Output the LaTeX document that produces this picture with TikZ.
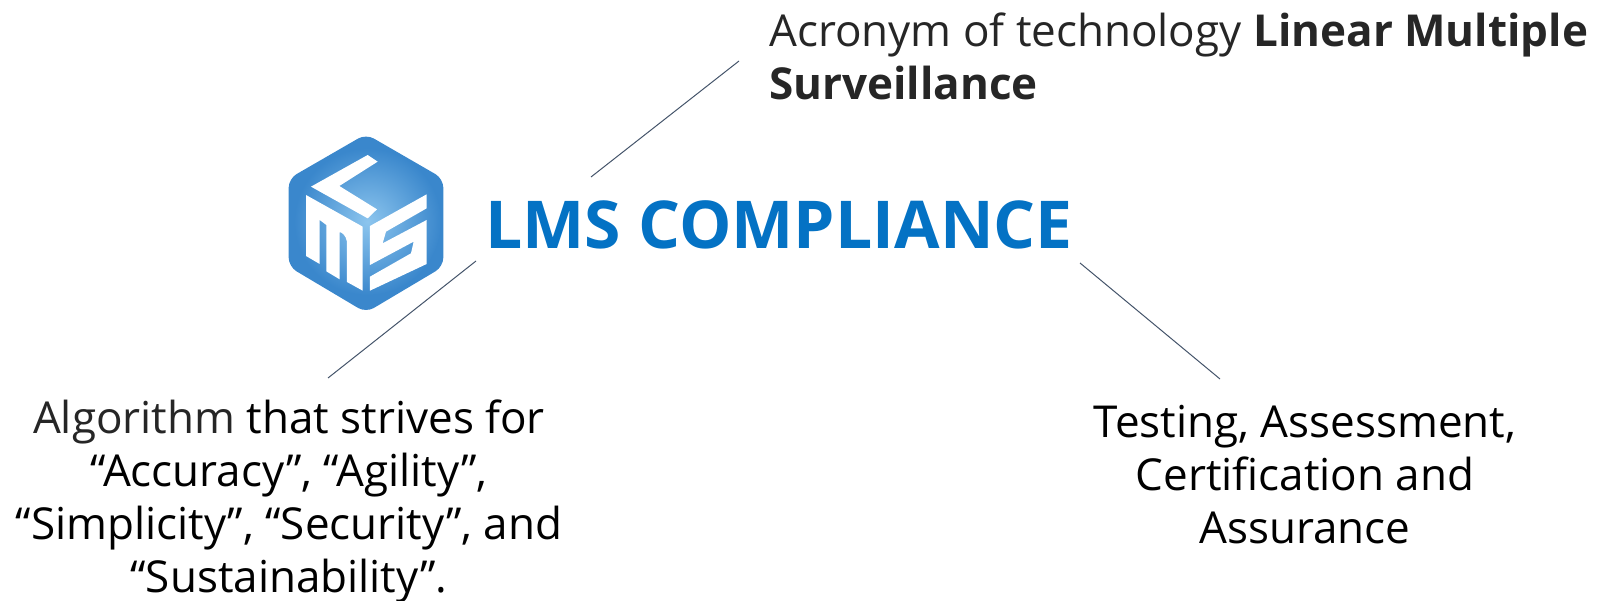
\documentclass[tikz,border=0pt]{standalone}
\usepackage{fontspec}
\setmainfont{Open Sans}
\definecolor{lmsblue}{HTML}{0472C4}
\definecolor{linegray}{HTML}{44546A}
\definecolor{textgray}{HTML}{262626}
\definecolor{cubeblue}{HTML}{3A87CC}
\definecolor{cubelight}{HTML}{8CC5EE}
\begin{document}
\begin{tikzpicture}[x=1pt,y=-1pt,
    txt/.style={font=\fontsize{44}{53}\selectfont, align=center, text=black, inner sep=0pt},
    link/.style={linegray, line width=1pt}]
    \useasboundingbox (0,0) rectangle (1602,601);
    % Draw logo
    \begin{scope}[shift={(261,110)},x=0.3333pt,y=-0.3333pt]
        \fill[cubeblue, rounded corners=9pt] (315,72) -- (547,206) -- (547,470) -- (315,608) -- (83,470) -- (83,206) -- cycle;
        \shade[inner color=cubelight, outer color=cubeblue] (320,335) circle (220);
        \fill[white] (320,135) -- (350,155) -- (235,228) -- (348,298) -- (320,325) -- (150,230) -- cycle;
        \fill[white] (135,255) -- (305,350) -- (305,542) -- (258,516) -- (258,395) .. controls (255,375) and (240,365) .. (236,367) -- (236,508) -- (196,484) -- (196,345) -- (176,330) -- (176,462) -- (135,438) -- cycle;
        \fill[white] (497,253) -- (497,295) -- (375,365) -- (365,400) -- (497,330) -- (497,462) -- (327,542) -- (327,500) -- (450,430) -- (458,395) -- (327,465) -- (327,348) -- cycle;
    \end{scope}

    % Draw texts
    \node[font=\bfseries\fontsize{66}{70}\selectfont, text=lmsblue, inner sep=0pt] (title) at (779,225) {LMS COMPLIANCE};
    \node[txt, align=left, anchor=north west, text=textgray] (top) at (769,13) {Acronym of technology \textbf{Linear Multiple}\\\textbf{Surveillance}};
    \node[txt] (left) at (289,501.5) {{\color{textgray}Algorithm} that strives for\\“Accuracy”, “Agility”,\\“Simplicity”, “Security”, and\\“Sustainability”.};
    \node[txt] (right) at (1305,474.5) {Testing, Assessment,\\Certification and\\Assurance};

    % Draw lines
    \coordinate (topa) at (591,177);
    \coordinate (topb) at (739,61);
    \coordinate (lefta) at (476,261);
    \coordinate (leftb) at (328,378);
    \coordinate (righta) at (1080,263);
    \coordinate (rightb) at (1220,379);
    \draw[link] (topa) -- (topb);
    \draw[link] (lefta) -- (leftb);
    \draw[link] (righta) -- (rightb);
\end{tikzpicture}
\end{document}
